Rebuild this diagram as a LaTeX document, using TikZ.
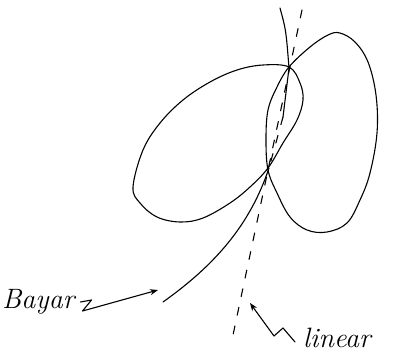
\documentclass[tikz,border=0pt]{standalone}
\usetikzlibrary{arrows.meta}
\begin{document}
\begin{tikzpicture}[
    x=1pt,y=-1pt,
    pen/.style={line width=1.1pt,line cap=round,line join=round},
    dashpen/.style={pen,dash pattern=on 8pt off 11pt},
    hand/.style={font=\fontsize{28}{30}\selectfont\itshape,inner sep=0pt},
    arr/.style={pen,-{Stealth[length=8pt,width=6pt]}}
]
\useasboundingbox (0,0) rectangle (399,356);
% left loop
\draw[pen] plot[smooth cycle,tension=0.6] coordinates {(289,67) (263,65) (237,70) (210,82) (183,100) (160,123) (143,150) (133,187) (140,203) (157,217) (180,222) (203,218) (230,203) (250,187) (268,168) (283,143) (297,120) (303,100) (300,83)};
% right loop
\draw[pen] plot[smooth cycle,tension=0.6] coordinates {(289,67) (310,47) (328,35) (340,33) (355,42) (368,62) (376,95) (377,133) (370,173) (360,200) (347,223) (327,232) (307,230) (290,217) (277,193) (268,170) (266,140) (268,110) (277,87)};
% linear fit
\coordinate (lintop) at (302,10);
\coordinate (linbot) at (233,335);
\draw[dashpen] (lintop) -- (linbot);
% bayar curve
\coordinate (bay0) at (280,8);
\coordinate (bay1) at (289,68);
\coordinate (bay2) at (283,117);
\coordinate (bay3) at (269,168);
\coordinate (bay4) at (163,302);
\draw[pen] (bay0) .. controls (286,30) .. (bay1) -- (bay2);
\draw[dashpen] (bay2) -- (bay3);
\draw[pen] (bay3) .. controls (250,225) and (215,265) .. (bay4);
% labels
\node[hand,anchor=west] (bayar) at (2,302) {Bayar};
\node[hand,anchor=west] (linear) at (303,338) {linear};
\coordinate (bayarhead) at (158,290);
\coordinate (linearhead) at (250,303);
\draw[arr] ([xshift=6pt]bayar.east) -- ++(11,-2) -- ++(-9,11) -- (bayarhead);
\draw[arr] ([xshift=-8pt,yshift=-4pt]linear.west) -- ++(-12,-14) -- ++(-9,8) -- (linearhead);
\end{tikzpicture}
\end{document}
